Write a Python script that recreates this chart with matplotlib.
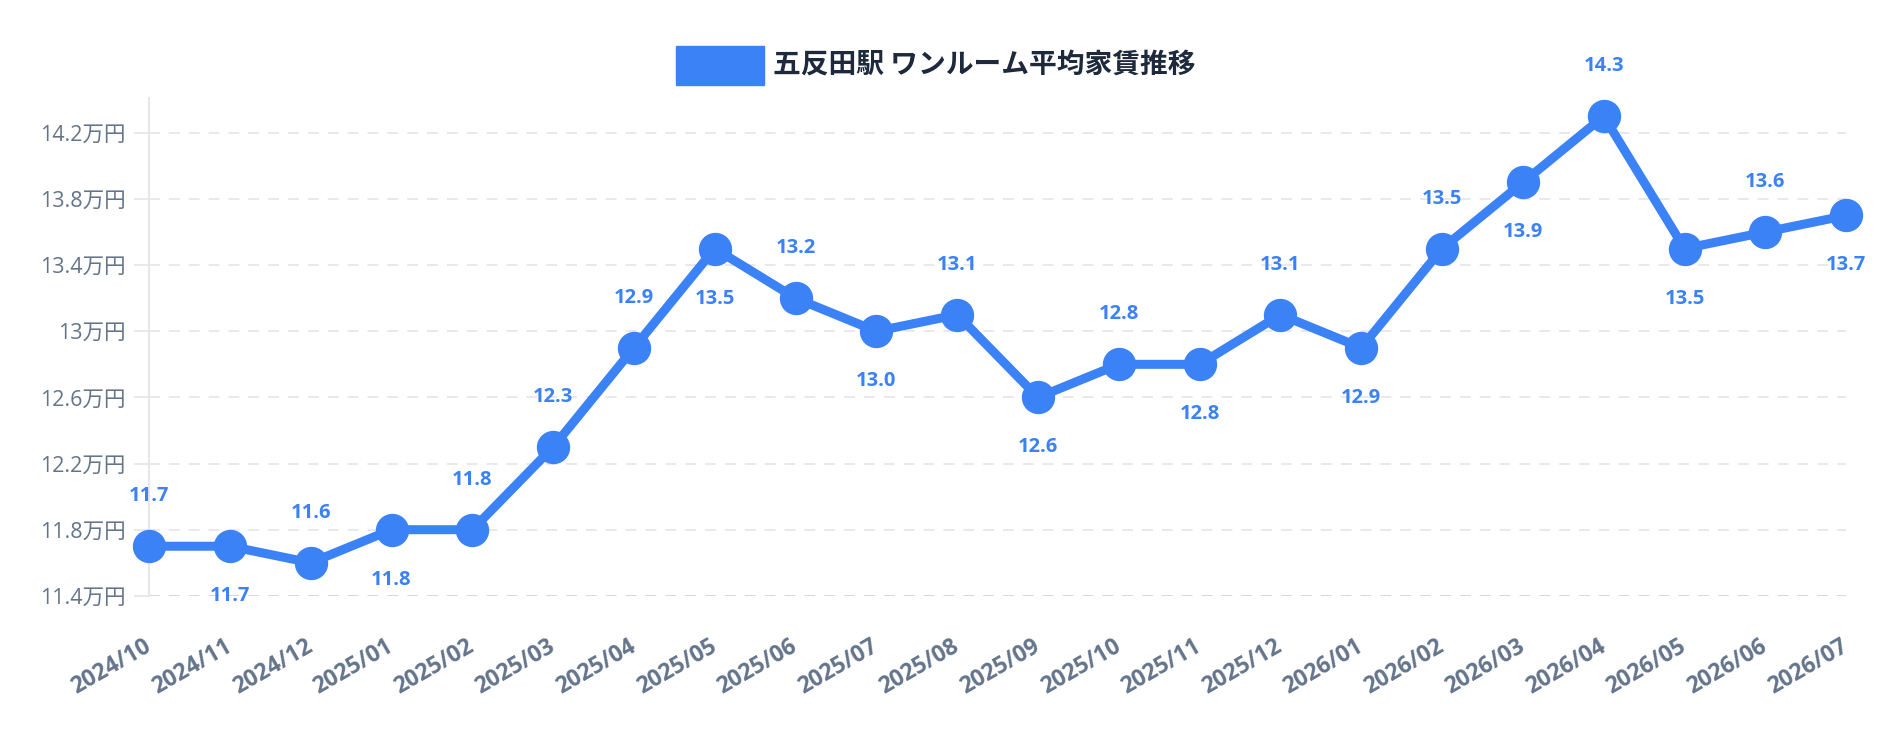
import matplotlib
matplotlib.use("Agg")
import matplotlib.pyplot as plt
from matplotlib.patches import Rectangle

# data
months = ["2024/10", "2024/11", "2024/12", "2025/01", "2025/02", "2025/03", "2025/04",
          "2025/05", "2025/06", "2025/07", "2025/08", "2025/09", "2025/10", "2025/11",
          "2025/12", "2026/01", "2026/02", "2026/03", "2026/04", "2026/05", "2026/06", "2026/07"]
rent = [11.7, 11.7, 11.6, 11.8, 11.8, 12.3, 12.9, 13.5, 13.2, 13.0, 13.1, 12.6,
        12.8, 12.8, 13.1, 12.9, 13.5, 13.9, 14.3, 13.5, 13.6, 13.7]
yticks = [11.4, 11.8, 12.2, 12.6, 13.0, 13.4, 13.8, 14.2]
title = "五反田駅 ワンルーム平均家賃推移"

blue = "#3b82f6"
gray = "#64748b"
grid_c = "#e5e7eb"
num_font = ["Open Sans", "DejaVu Sans"]

fig = plt.figure(figsize=(18.8, 7.32), dpi=100)
ax = fig.add_axes([0.0793, 0.186, 0.9027, 0.68])

x = list(range(len(months)))
ax.plot(x, rent, color=blue, lw=6.5, marker="o", ms=23, mfc=blue, mec=blue, zorder=3,
        clip_on=False)

# labels above / below
side = [1, -1, 1, -1, 1, 1, 1, -1, 1, -1, 1, -1, 1, -1, 1, -1, 1, -1, 1, -1, 1, -1]
for i, v in enumerate(rent):
    ax.annotate(f"{v:.1f}", (i, v), xytext=(0, 36 * side[i]), textcoords="offset points",
                ha="center", va="center", color=blue, fontsize=14.5, fontweight="bold",
                family=num_font, zorder=4)

ax.set_xlim(0, len(months) - 1)
ax.set_ylim(11.4, 14.41)
ax.set_yticks(yticks)
ax.set_yticklabels([f"{t:g}万円" for t in yticks], family=["Open Sans", "Noto Sans CJK JP"],
                   fontsize=15.5, color=gray)
ax.set_xticks(x)
ax.set_xticklabels(months, rotation=30, ha="right", va="center", rotation_mode="anchor",
                   fontsize=16.5, fontweight="bold", color=gray, family=num_font)
ax.tick_params(axis="x", length=0, pad=35)
ax.tick_params(axis="y", length=11, color=grid_c, width=1.3, pad=6)

for t in yticks:
    ax.axhline(t, color="#d1d5db" if t == 11.4 else grid_c, lw=1.3, ls=(0, (6, 5)), zorder=1)

for s in ["top", "right", "bottom"]:
    ax.spines[s].set_visible(False)
ax.spines["left"].set_color(grid_c)
ax.spines["left"].set_linewidth(1.5)

# legend box
fig.add_artist(Rectangle((676 / 1880, 1 - 85 / 732), 88 / 1880, 39 / 732,
                         transform=fig.transFigure, color=blue))
fig.text(773 / 1880, 1 - 65 / 732, title, ha="left", va="center", fontsize=20,
         fontweight="bold", color="#1e293b", family=["Noto Sans CJK JP", "DejaVu Sans"])

fig.savefig("out.png", dpi=100, facecolor="white")
